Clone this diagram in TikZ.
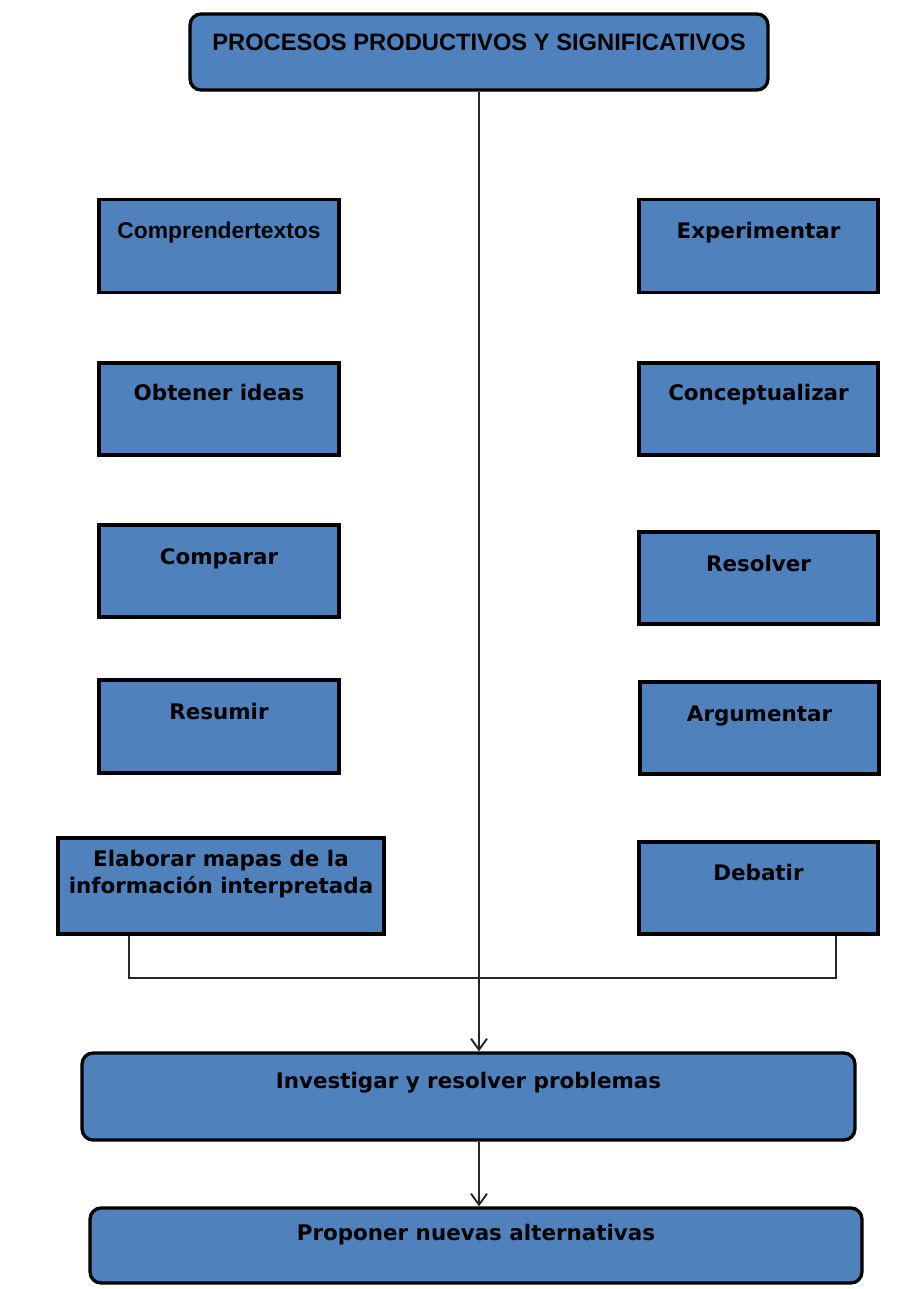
\documentclass[tikz,border=0pt]{standalone}
\usepackage{fontspec}
\setmainfont{DejaVu Sans}
\newfontfamily\narrowfont{Liberation Sans}
\usetikzlibrary{
    arrows.meta,
    positioning
}
\definecolor{boxblue}{HTML}{4F81BD}

\tikzset{
    box/.style={draw=black, fill=boxblue, line width=1.9pt, inner sep=0pt},
    roundbox/.style={box, rounded corners=0.22cm},
    lbl/.style={inner sep=0pt, align=center, font=\fontsize{12.2}{15.3}\selectfont\bfseries},
    link/.style={line width=1pt, draw=black!85},
    arrowlink/.style={link, -{Straight Barb[length=2.2mm,width=3.2mm,line width=1.1pt]}}
}

\begin{document}
\begin{tikzpicture}[x=0.02cm, y=-0.02cm]

\useasboundingbox (0,0) rectangle (908,1289);

% Title
\node[roundbox, minimum width=11.56cm, minimum height=1.52cm,
      label={[lbl, anchor=north, yshift=-0.42cm, font=\fontsize{13.5}{16}\selectfont\bfseries\narrowfont]north:PROCESOS PRODUCTIVOS Y SIGNIFICATIVOS}]
      (title) at (479,52) {};

% Left column
\node[box, minimum width=4.8cm, minimum height=1.86cm,
      label={[lbl, anchor=north, yshift=-0.48cm, font=\fontsize{13}{15}\selectfont\bfseries\narrowfont]north:Comprendertextos}]
      (comp) at (219,246) {};
\node[box, minimum width=4.8cm, minimum height=1.84cm,
      label={[lbl, anchor=north, yshift=-0.46cm]north:Obtener ideas}]
      (ideas) at (219,409) {};
\node[box, minimum width=4.8cm, minimum height=1.84cm,
      label={[lbl, anchor=north, yshift=-0.49cm]north:Comparar}]
      (compa) at (219,571) {};
\node[box, minimum width=4.8cm, minimum height=1.86cm,
      label={[lbl, anchor=north, yshift=-0.49cm]north:Resumir}]
      (resum) at (219,726.5) {};
\node[box, minimum width=6.52cm, minimum height=1.92cm,
      label={[lbl, anchor=north, yshift=-0.27cm]north:Elaborar mapas de la\\información interpretada}]
      (elab) at (221,886) {};

% Right column
\node[box, minimum width=4.78cm, minimum height=1.86cm,
      label={[lbl, anchor=north, yshift=-0.48cm]north:Experimentar}]
      (exper) at (758.5,246) {};
\node[box, minimum width=4.78cm, minimum height=1.84cm,
      label={[lbl, anchor=north, yshift=-0.46cm]north:Conceptualizar}]
      (concep) at (758.5,409) {};
\node[box, minimum width=4.78cm, minimum height=1.84cm,
      label={[lbl, anchor=north, yshift=-0.5cm]north:Resolver}]
      (resol) at (758.5,578) {};
\node[box, minimum width=4.78cm, minimum height=1.84cm,
      label={[lbl, anchor=north, yshift=-0.5cm]north:Argumentar}]
      (argum) at (759.5,728) {};
\node[box, minimum width=4.78cm, minimum height=1.84cm,
      label={[lbl, anchor=north, yshift=-0.48cm]north:Debatir}]
      (debat) at (758.5,888) {};

% Bottom boxes
\node[roundbox, minimum width=15.46cm, minimum height=1.74cm,
      label={[lbl, anchor=north, yshift=-0.41cm]north:Investigar y resolver problemas}]
      (inves) at (468.5,1096.5) {};
\node[roundbox, minimum width=15.44cm, minimum height=1.5cm,
      label={[lbl, anchor=north, yshift=-0.36cm]north:Proponer nuevas alternativas}]
      (propo) at (476,1245.5) {};

% Connectors
\coordinate (jl) at (129,978);
\coordinate (jr) at (836,978);
\draw[link] (elab.south -| jl) -- (jl) -- (jr) -- (debat.south -| jr);

\draw[arrowlink] (title.south) -- (title.south |- inves.north);
\draw[arrowlink] (title.south |- inves.south) -- (title.south |- propo.north);

\end{tikzpicture}
\end{document}
